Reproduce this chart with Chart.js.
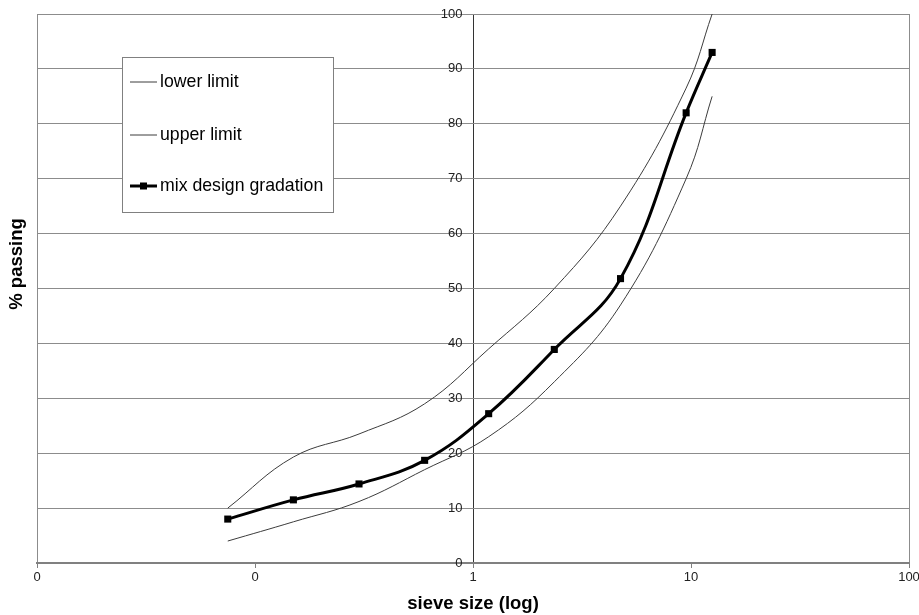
<!DOCTYPE html>
<html>
<head>
<meta charset="utf-8">
<script src="https://cdn.jsdelivr.net/npm/chart.js@4.4.1/dist/chart.umd.min.js"></script>
<style>
  html, body { margin: 0; padding: 0; background: #fff; }
  #wrap { position: relative; width: 919px; height: 615px; }
</style>
</head>
<body>
<div id="wrap"><canvas id="grading_Chart"></canvas></div>
<script>
// sieve sizes in mm (log x axis)
const sieveSizes = [0.075, 0.15, 0.3, 0.6, 1.18, 2.36, 4.75, 9.5, 12.5];
const lowerLimit = [4, 7.5, 11.2, 17, 23, 33, 47, 70, 85];
const upperLimit = [10, 19.3, 23.5, 29, 39, 50, 65, 86.5, 100];
const mixGradation = [8, 11.5, 14.4, 18.7, 27.2, 38.9, 51.8, 82, 93];

const xTickValues = [0.01, 0.1, 1, 10, 100];
const xTickLabels = ['0', '0', '1', '10', '100'];

const seriesNames = ['lower limit', 'upper limit', 'mix design gradation'];
const xTitle = 'sieve size (log)';
const yTitle = '% passing';

const FONT = "'Liberation Sans', Arial, sans-serif";

function toPoints(vals) {
  return sieveSizes.map((s, i) => ({ x: s, y: vals[i] }));
}

// y title sits a bit above the centre in the original, so draw it by hand
const yTitlePlugin = {
  id: 'yTitle',
  afterDraw(chart) {
    const c = chart.ctx;
    c.save();
    c.translate(17, 264);
    c.rotate(-Math.PI / 2);
    c.font = 'bold 18.5px ' + FONT;
    c.fillStyle = '#000';
    c.textAlign = 'center';
    c.textBaseline = 'middle';
    c.fillText(yTitle, 0, 0);
    c.restore();
  }
};

// boxed legend inside the plot, Excel style
const boxLegend = {
  id: 'boxLegend',
  afterDraw(chart) {
    const c = chart.ctx;
    const bx = 122, by = 57, bw = 211, bh = 155;
    c.save();
    c.fillStyle = '#fff';
    c.fillRect(bx, by, bw, bh);
    c.strokeStyle = '#808080';
    c.lineWidth = 1;
    c.strokeRect(bx + 0.5, by + 0.5, bw, bh);
    const rows = [82, 135, 186];
    chart.data.datasets.forEach((ds, i) => {
      const y = rows[i];
      c.strokeStyle = ds.borderColor;
      c.lineWidth = ds.borderWidth;
      c.beginPath();
      c.moveTo(130, y);
      c.lineTo(157, y);
      c.stroke();
      if (ds.pointRadius > 0) {
        c.fillStyle = ds.pointBackgroundColor;
        c.fillRect(140, y - 3.5, 7, 7);
      }
      c.fillStyle = '#000';
      c.font = '17.7px ' + FONT;
      c.textAlign = 'left';
      c.textBaseline = 'middle';
      c.fillText(ds.label, 160, y);
    });
    c.restore();
  }
};

let ctx = document.getElementById('grading_Chart');
let graphData = {
  type: 'line',
  data: {
    datasets: [
      {
        label: seriesNames[0],
        data: toPoints(lowerLimit),
        borderColor: '#3c3c3c',
        borderWidth: 1,
        pointRadius: 0,
        tension: 0.4,
      },
      {
        label: seriesNames[1],
        data: toPoints(upperLimit),
        borderColor: '#3c3c3c',
        borderWidth: 1,
        pointRadius: 0,
        tension: 0.4,
      },
      {
        label: seriesNames[2],
        data: toPoints(mixGradation),
        borderColor: '#000',
        borderWidth: 3,
        pointStyle: 'rect',
        pointRadius: 5,
        pointBackgroundColor: '#000',
        pointBorderColor: '#000',
        pointBorderWidth: 0,
        tension: 0.4,
      },
    ]
  },
  options: {
    responsive: true,
    maintainAspectRatio: false,
    animation: false,
    layout: { padding: { left: 37, right: 10, top: 14, bottom: 0 } },
    plugins: {
      legend: { display: false },
      tooltip: { enabled: false },
    },
    scales: {
      x: {
        type: 'logarithmic',
        min: 0.01,
        max: 100,
        afterBuildTicks: (scale) => {
          scale.ticks = xTickValues.map(v => ({ value: v }));
        },
        afterFit: (scale) => {
          scale.height = 52;
          scale.paddingLeft = 0;
          scale.paddingRight = 0;
        },
        ticks: {
          autoSkip: false,
          maxRotation: 0,
          padding: 2,
          color: '#222',
          font: { family: FONT, size: 13 },
          callback: (v) => xTickLabels[xTickValues.indexOf(v)],
        },
        grid: {
          // only the plot border and the value-axis line at 1 are drawn
          color: (c) => {
            if (c.index === 2) return '#333';
            if (c.index === 0 || c.index === xTickValues.length - 1) return '#8c8c8c';
            return 'rgba(0,0,0,0)';
          },
          tickColor: '#808080',
          tickLength: 5,
        },
        border: { color: '#808080', width: 2 },
        title: {
          display: true,
          text: xTitle,
          color: '#000',
          font: { family: FONT, size: 18.5, weight: 'bold' },
          padding: { top: 4, bottom: 0 },
        },
      },
      y: {
        min: 0,
        max: 100,
        // labels hang just left of the value axis that crosses at 1
        position: { x: 0.895 },
        ticks: {
          stepSize: 10,
          color: '#222',
          font: { family: FONT, size: 13 },
        },
        grid: {
          color: '#8c8c8c',
          tickLength: 0,
        },
        border: { display: false },
      }
    },
  },
  plugins: [yTitlePlugin, boxLegend],
};

let grading_Chart = new Chart(ctx, graphData);
</script>
</body>
</html>
